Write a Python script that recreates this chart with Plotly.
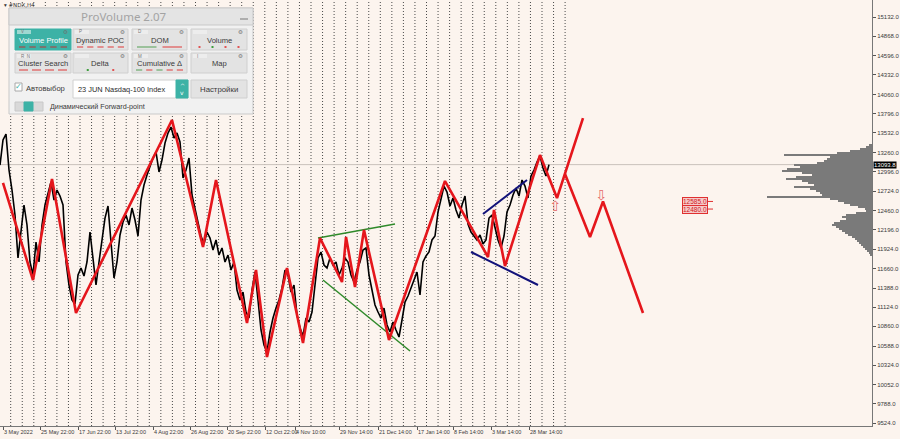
import plotly.graph_objects as go

# ---------------- data ----------------
# closes sampled every 3 bars (bar index = chart slot)
BAR_STEP = 3
price_close = [
    13088, 13434, 13516, 13019, 12743, 12398, 11804, 12191, 12536, 12260,
    11749, 11569, 12025, 11749, 12260, 12536, 12715, 12854, 12605, 12743,
    12660, 12536, 11749, 11431, 11224, 11169, 11569, 11666, 11555, 11749,
    12163, 11776, 11431, 11749, 12053, 12356, 12522, 11984, 11528, 11749,
    12122, 12301, 12398, 12260, 12494, 12329, 12108, 12605, 12812, 12950,
    13074, 13185, 13268, 12992, 13157, 13392, 13530, 13613, 13461, 13530,
    13406, 12909, 13019, 13185, 12674, 12494, 12301, 12108, 11997, 12163,
    12080, 11914, 12053, 11845, 11942, 11749, 11845, 11638, 11749, 11362,
    11224, 11334, 11058, 10975, 11362, 11611, 11224, 10810, 10603, 10506,
    10782, 10975, 11113, 11224, 11390, 11638, 11569, 11334, 11431, 11017,
    10837, 10727, 10975, 10920, 11058, 11431, 11804, 11887, 11707, 11666,
    11804, 11707, 11749, 11569, 11666, 11804, 11749, 11569, 11473, 11638,
    11749, 11914, 11942, 11569, 11334, 11155, 11058, 10975, 11113, 10879,
    10782, 10920, 10810, 10713, 10948, 11196, 11279, 11390, 11500, 11611,
    11293, 11749, 11832, 11887, 12053, 12108, 12439, 12605, 12798, 12715,
    12522, 12633, 12467, 12356, 12536, 12660, 12274, 12163, 12108, 12053,
    12122, 11997, 12053, 12356, 12398, 12218, 12053, 11942, 12108, 12439,
    12536, 12674, 12771, 12660, 12881, 12798, 12633, 12936, 13019, 13130,
    13213, 13047, 12936, 13093.8,
]
current_price = 13093.8

# red zigzag (bar index, price)
zz_x = [3, 33, 52, 76, 172, 203, 216, 247, 256, 267, 287, 303, 320, 342, 346,
        355, 364, 389, 445, 488, 494, 505, 540, 557, 583]
zz_p = [12840, 11500, 12895, 11044, 13710, 11956, 12881, 10906, 11638, 10437,
        11666, 10630, 12080, 11472, 12094, 11403, 12190, 10671, 12867, 11818,
        12467, 11693, 13226, 12632, 13737]
# alternative forecast branch
fc_x = [565, 590, 603, 643]
fc_p = [12964, 12094, 12585, 11044]

# pattern lines
green_up_x, green_up_p = [318, 395], [12080, 12273]
green_lo_x, green_lo_p = [323, 410], [11500, 10520]
navy_up_x, navy_up_p = [483, 527], [12411, 12881]
navy_lo_x, navy_lo_p = [471, 538], [11887, 11431]

# signal arrows
arrow_up_x, arrow_up_p = [555], [12508]
arrow_dn_x, arrow_dn_p = [601], [12660]

# level labels
level_prices = [12585.0, 12480.0]
level_x = 695

# volume profile (price level, relative volume)
vp_price = [13364, 13337, 13309, 13281, 13254, 13226, 13199, 13171, 13143, 13116,
            13088, 13061, 13033, 13005, 12978, 12950, 12922, 12895, 12867, 12840,
            12812, 12784, 12757, 12729, 12702, 12674, 12646, 12619, 12591, 12564,
            12536, 12508, 12481, 12453, 12426, 12398, 12370, 12343, 12315, 12288,
            12260, 12232, 12205, 12177, 12150, 12122, 12094, 12067, 12039, 12012,
            11984, 11956, 11929, 11901, 11873, 11846]
vp_vol = [3, 6, 12, 22, 35, 88, 42, 45, 48, 55,
          78, 72, 85, 90, 70, 60, 76, 86, 70, 64,
          58, 78, 62, 56, 52, 50, 105, 42, 34, 28,
          22, 14, 7, 6, 16, 26, 30, 26, 32, 38,
          40, 36, 33, 30, 27, 24, 20, 17, 15, 13,
          11, 9, 7, 5, 3, 2]

# axes
y_ticks = [15132, 14868, 14596, 14332, 14060, 13796, 13532, 13260, 12996, 12724,
           12460, 12196, 11924, 11660, 11388, 11124, 10860, 10588, 10324, 10052,
           9788, 9524]
x_tick_pos = [3, 40, 78, 115, 153, 190, 227, 265, 295, 339, 378, 417, 453, 491, 529]
x_tick_text = ["3 May 2022", "25 May 22:00", "17 Jun 22:00", "13 Jul 22:00",
               "4 Aug 22:00", "26 Aug 22:00", "20 Sep 22:00", "12 Oct 22:00",
               "4 Nov 10:00", "29 Nov 14:00", "21 Dec 14:00", "17 Jan 14:00",
               "8 Feb 14:00", "3 Mar 14:00", "28 Mar 14:00"]
n_weeks = 49
week_first = 10.7
week_len = 11.55

# ---------------- layout constants ----------------
W, H = 900, 439
PW, PH = 872, 426
BG = "#FCF4EE"
TEAL = "#3DB2A6"
UI_FONT = "Liberation Sans"

fig = go.Figure()

price_x = [i * BAR_STEP for i in range(len(price_close))]
fig.add_trace(go.Scatter(x=price_x, y=price_close, mode="lines",
                         line=dict(color="black", width=1.6), hoverinfo="skip"))
fig.add_trace(go.Scatter(x=green_up_x, y=green_up_p, mode="lines",
                         line=dict(color="#2F8A2A", width=1.5)))
fig.add_trace(go.Scatter(x=green_lo_x, y=green_lo_p, mode="lines",
                         line=dict(color="#2F8A2A", width=1.5)))
fig.add_trace(go.Scatter(x=navy_up_x, y=navy_up_p, mode="lines",
                         line=dict(color="#12127A", width=2)))
fig.add_trace(go.Scatter(x=navy_lo_x, y=navy_lo_p, mode="lines",
                         line=dict(color="#12127A", width=2)))
fig.add_trace(go.Scatter(x=zz_x, y=zz_p, mode="lines",
                         line=dict(color="#E5161C", width=2.6)))
fig.add_trace(go.Scatter(x=fc_x, y=fc_p, mode="lines",
                         line=dict(color="#E5161C", width=2.6)))
fig.add_trace(go.Scatter(x=arrow_up_x, y=arrow_up_p, mode="text", text=["⇧"],
                         textfont=dict(color="#E56A6A", size=14, family="DejaVu Sans")))
fig.add_trace(go.Scatter(x=arrow_dn_x, y=arrow_dn_p, mode="text", text=["⇩"],
                         textfont=dict(color="#E56A6A", size=14, family="DejaVu Sans")))

# volume profile growing leftwards from the price axis
fig.add_trace(go.Bar(y=vp_price, x=vp_vol, orientation="h", xaxis="x2",
                     width=28, marker=dict(color="#7A7A7A", line=dict(width=0)),
                     hoverinfo="skip"))

shapes = []
annotations = []

# weekly dotted separators
for k in range(n_weeks):
    xv = week_first + k * week_len
    shapes.append(dict(type="line", xref="x", yref="paper", x0=xv, x1=xv, y0=0, y1=1,
                       line=dict(color="#4A4A4A", width=1, dash="1px,2px"), layer="below"))

# current price line
shapes.append(dict(type="line", xref="paper", yref="y", x0=0, x1=1,
                   y0=current_price, y1=current_price,
                   line=dict(color="#C9C2BC", width=1), layer="below"))
annotations.append(dict(xref="paper", yref="y", x=1.001, y=current_price, xanchor="left",
                        yanchor="middle", text=f"{current_price:.1f}", showarrow=False,
                        bgcolor="black", font=dict(color="white", size=6, family="Liberation Sans"),
                        borderpad=0))

# level labels
for lp in level_prices:
    annotations.append(dict(xref="x", yref="y", x=level_x, y=lp, text=f"{lp:.1f}",
                            showarrow=False, bgcolor="#F6C9C9", bordercolor="#E03030",
                            borderwidth=1, borderpad=0,
                            font=dict(color="#D02020", size=6.5, family="Liberation Sans")))
    shapes.append(dict(type="line", xref="x", yref="y", x0=level_x + 13, x1=level_x + 18,
                       y0=lp, y1=lp, line=dict(color="#E03030", width=1)))


# ---------------- ProVolume panel ----------------
def px(x):
    return x / PW


def py(y):
    return 1 - y / PH


def rect(x0, y0, x1, y1, fill, line="rgba(0,0,0,0)", lw=1):
    shapes.append(dict(type="rect", xref="paper", yref="paper", x0=px(x0), x1=px(x1),
                       y0=py(y1), y1=py(y0), fillcolor=fill,
                       line=dict(color=line, width=lw), layer="above"))


def hline(x0, x1, y, color, lw=1.5):
    shapes.append(dict(type="line", xref="paper", yref="paper", x0=px(x0), x1=px(x1),
                       y0=py(y), y1=py(y), line=dict(color=color, width=lw), layer="above"))


def txt(x, y, s, size=8, color="#333", anchor="center", family=UI_FONT):
    annotations.append(dict(xref="paper", yref="paper", x=px(x), y=py(y), text=s,
                            showarrow=False, xanchor=anchor, yanchor="middle",
                            font=dict(size=size, color=color, family=family)))


rect(9, 8, 253, 114, "#F1F1F1", "#C9C9C9")
rect(9, 8, 253, 25, "#E4E4E4", "#C9C9C9")
txt(124, 16.5, "ProVolume 2.07", 11.5, "#A3A3A3", family="Noto Sans")
hline(240, 248, 19, "#8A8A8A", 1.2)

btn_cols = [(15, 71), (73, 128), (132, 187), (191, 247)]
rows = [(29, 50), (53, 73)]
buttons = [
    ("Volume Profile", "V", True, [("d", "#A44A4A")] * 5),
    ("Dynamic POC", "P", False, [("d", "#E05454")] * 5),
    ("DOM", "D", False, [("l", "#6AAA6A"), ("l", "#E05454")]),
    ("Volume", "", False, [("o", "#E05454"), ("o", "#3E9E3E"), ("o", "#E05454"), ("o", "#E05454")]),
    ("Cluster Search", "R  N", False, [("d", "#E05454")] * 4),
    ("Delta", "", False, [("o", "#3E9E3E"), ("o", "#E05454")]),
    ("Cumulative \u0394", "M", False, [("d", "#6AAA6A"), ("d", "#E05454"), ("d", "#6AAA6A"),
                                       ("d", "#E05454"), ("d", "#E05454")]),
    ("Map", "I", False, []),
]
for i, (label, tab, active, marks) in enumerate(buttons):
    x0, x1 = btn_cols[i % 4]
    y0, y1 = rows[i // 4]
    fill = TEAL if active else "#E3E3E3"
    rect(x0, y0, x1, y1, fill, "#CFCFCF" if not active else TEAL)
    rect(x0 + 2, y0 + 1, x0 + 16, y0 + 5, "#9FD8D1" if active else "#EDEDED")
    if tab:
        txt(x0 + 4, y0 + 3, tab, 4.5, "#777", "left")
    txt(x1 - 6, y0 + 3, "⚙", 5.5, "#6F6F6F", family="DejaVu Sans")
    txt((x0 + x1) / 2, (y0 + y1) / 2 + 0.5, label, 7.6, "white" if active else "#3A3A3A")
    n = len(marks)
    if n:
        cell = (x1 - x0 - 4) / n
        for j, (kind, col) in enumerate(marks):
            cx0 = x0 + 2 + j * cell
            if kind == "o":
                rect(cx0 + cell / 2 - 1, y1 - 4, cx0 + cell / 2 + 1, y1 - 2, col)
            elif kind == "l":
                hline(cx0 + 3, cx0 + cell - 3, y1 - 3, col, 1.2)
            else:
                hline(cx0 + 2, cx0 + cell - 2, y1 - 3, col, 1.2)

# row 3
rect(15, 83, 22, 91, "white", "#A8A8A8")
txt(18.5, 86, "✓", 8, TEAL, family="DejaVu Sans")
txt(24, 88, "Автовыбор", 7.6, "#3A3A3A", "left")
rect(73, 80, 188, 98, "white", "#D0D0D0")
txt(76, 89, "23 JUN Nasdaq-100 Index", 7.4, "#2A2A2A", "left")
rect(176, 80, 188, 98, TEAL, TEAL)
txt(182, 85.5, "^", 6, "white", family="DejaVu Sans")
txt(182, 92, "v", 6, "white", family="DejaVu Sans")
rect(191, 80, 247, 98, "#E3E3E3", "#CFCFCF")
txt(219, 89, "Настройки", 7.8, "#3A3A3A")
# row 4
rect(15, 102, 43, 111, "#D9D9D9", "#C8C8C8")
rect(24, 102, 33, 111, TEAL, TEAL)
txt(48, 106.5, "Динамический Forward-point", 7.2, "#3A3A3A", "left")

# chart title
annotations.append(dict(xref="paper", yref="paper", x=0.002, y=1, yanchor="top", xanchor="left",
                        text="▾ #NDX,H4", showarrow=False,
                        font=dict(size=5.5, color="#333", family="DejaVu Sans")))

fig.update_layout(
    width=W, height=H,
    margin=dict(l=0, r=W - PW, t=0, b=H - PH),
    paper_bgcolor=BG, plot_bgcolor=BG,
    showlegend=False,
    bargap=0,
    shapes=shapes,
    annotations=annotations,
    xaxis=dict(range=[0, PW], showgrid=False, zeroline=False,
               tickvals=x_tick_pos, ticktext=x_tick_text, tickangle=0,
               ticks="outside", ticklen=3, tickcolor="#555",
               ticklabelposition="outside right",
               tickfont=dict(size=5.5, color="#3A3A3A", family="Liberation Sans"),
               showline=True, linecolor="#777", linewidth=1, automargin=False),
    xaxis2=dict(overlaying="x", range=[PW, 0], visible=False, showgrid=False),
    yaxis=dict(side="right", range=[9484, 15367], showgrid=False, zeroline=False,
               tickvals=y_ticks, ticktext=[f"{v:.1f}" for v in y_ticks],
               ticks="outside", ticklen=3, tickcolor="#555",
               tickfont=dict(size=6, color="#3A3A3A", family="Liberation Sans"),
               showline=True, mirror=True, linecolor="#777", linewidth=1, automargin=False),
)

fig.write_html("out.html", config={"displayModeBar": False},
               post_script="document.body.style.margin='0';document.body.style.overflow='hidden';")
